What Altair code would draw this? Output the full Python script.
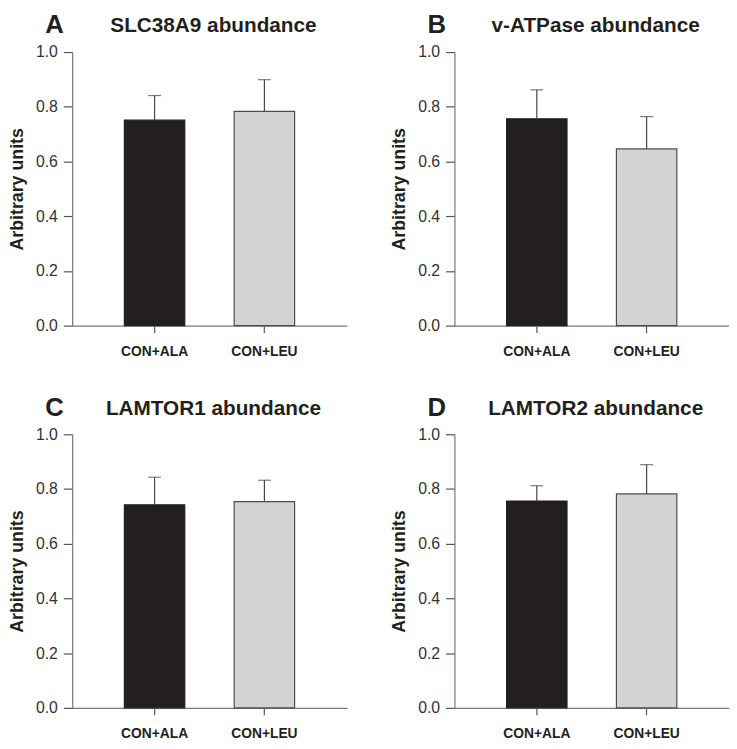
import altair as alt
import pandas as pd

groups = ["CON+ALA", "CON+LEU"]
bar_colors = ["#231f20", "#d1d3d4"]
bar_strokes = ["#231f20", "#4d4d4d"]
panel_letters = ["A", "B", "C", "D"]
panel_titles = ["SLC38A9 abundance", "v-ATPase abundance",
                "LAMTOR1 abundance", "LAMTOR2 abundance"]
means_A = [0.751, 0.783]
sems_A = [0.090, 0.116]
means_B = [0.756, 0.646]
sems_B = [0.106, 0.118]
means_C = [0.742, 0.754]
sems_C = [0.101, 0.078]
means_D = [0.756, 0.782]
sems_D = [0.056, 0.107]
y_ticks = [0.0, 0.2, 0.4, 0.6, 0.8, 1.0]

means = [means_A, means_B, means_C, means_D]
sems = [sems_A, sems_B, sems_C, sems_D]

FONT = "Liberation Sans"
AXIS_GRAY = "#777777"


def panel(i):
    df = pd.DataFrame({"group": groups, "mean": means[i], "sem": sems[i]})
    df["upper"] = df["mean"] + df["sem"]
    base = alt.Chart(df)
    x = alt.X("group:N",
              scale=alt.Scale(domain=groups, paddingInner=0.45, paddingOuter=0.475),
              axis=alt.Axis(title=None, labelAngle=0, tickSize=7, labelPadding=12,
                            labelFont=FONT, labelFontSize=14, labelFontWeight="bold",
                            labelColor="#231f20", domainColor=AXIS_GRAY,
                            tickColor="#555555", domainWidth=1.2, tickWidth=1.2))
    y = alt.Y("mean:Q",
              scale=alt.Scale(domain=[0, 1], nice=False),
              axis=alt.Axis(title="Arbitrary units", values=y_ticks, format=".1f",
                            tickSize=9, labelPadding=6, labelFont=FONT,
                            labelFontSize=16, labelColor="#333333",
                            titleFont=FONT, titleFontSize=18, titleFontWeight="bold",
                            titleColor="#231f20", titlePadding=9, grid=False,
                            domainColor=AXIS_GRAY, tickColor="#555555",
                            domainWidth=1.2, tickWidth=1.2))
    bars = base.mark_bar(strokeWidth=1.2).encode(
        x=x, y=y,
        color=alt.Color("group:N", scale=alt.Scale(domain=groups, range=bar_colors), legend=None),
        stroke=alt.Stroke("group:N", scale=alt.Scale(domain=groups, range=bar_strokes), legend=None),
    )
    rules = base.mark_rule(color="#444444", strokeWidth=1.2).encode(
        x="group:N", y="mean:Q", y2="upper:Q")
    caps = base.mark_tick(color="#444444", thickness=1.2, size=13).encode(
        x="group:N", y="upper:Q")
    tdf = pd.DataFrame({"letter": [panel_letters[i]], "title": [panel_titles[i]]})
    tbase = alt.Chart(tdf)
    letter = tbase.mark_text(font=FONT, fontSize=26, fontWeight="bold", align="center",
                             baseline="alphabetic", color="#231f20").encode(
        x=alt.value(-18), y=alt.value(-19), text="letter:N")
    title = tbase.mark_text(font=FONT, fontSize=21, fontWeight="bold", align="center",
                            baseline="alphabetic", color="#231f20").encode(
        x=alt.value(143), y=alt.value(-20), text="title:N")
    return alt.layer(bars, rules, caps, letter, title).properties(width=278, height=277)


row1 = alt.hconcat(panel(0), panel(1), spacing=44)
row2 = alt.hconcat(panel(2), panel(3), spacing=44)
chart = alt.vconcat(row1, row2, spacing=37).properties(
    padding=0, background="white"
).configure_view(stroke=None)

chart.save("out.html", embed_options={"renderer": "svg", "actions": False})
